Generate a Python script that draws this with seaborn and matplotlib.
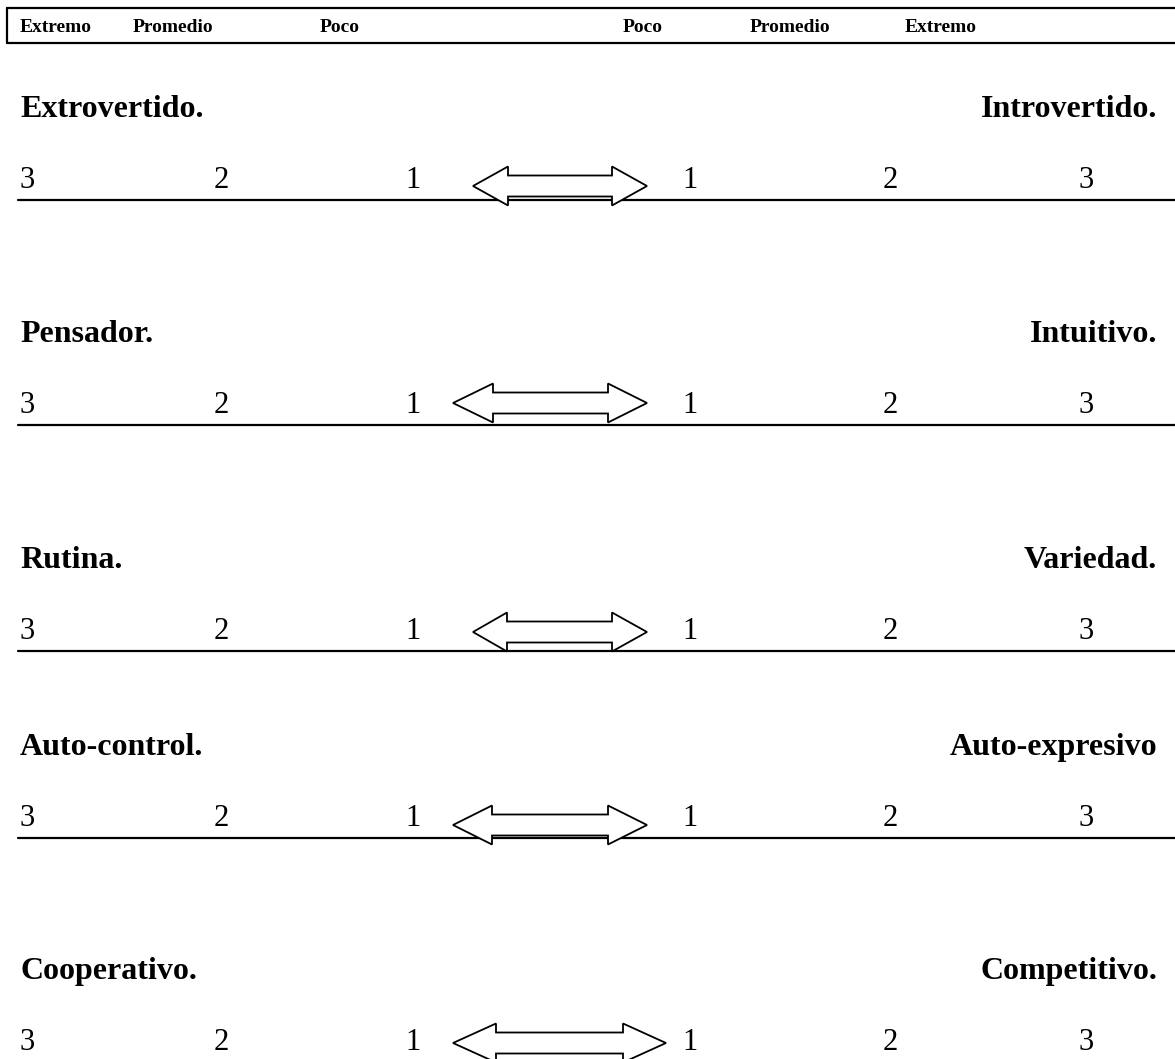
import matplotlib
matplotlib.use("Agg")
import matplotlib.pyplot as plt
import seaborn as sns
from matplotlib.patches import Polygon

# data: header labels, scale values and trait pairs
header_labels = ["Extremo", "Promedio", "Poco", "Poco", "Promedio", "Extremo"]
scale_values = [3, 2, 1, 1, 2, 3]
left_traits = ["Extrovertido.", "Pensador.", "Rutina.", "Auto-control.", "Cooperativo."]
right_traits = ["Introvertido.", "Intuitivo.", "Variedad.", "Auto-expresivo", "Competitivo."]

# layout (pixel coordinates of the 1175x1059 page)
W, H = 1175, 1059
header_x = [20, 133, 320, 623, 750, 905]
number_x = [27, 221, 413, 690, 890, 1086]
rule_y = [200, 425, 651, 838, 1062]
# arrow geometry per row: centre y, left tip, left base, right base, right tip
arrows = [
    (186, 473, 508, 612, 647),
    (403, 453, 493, 608, 647),
    (632, 473, 507, 612, 647),
    (825, 453, 492, 608, 647),
    (1043, 453, 496, 623, 666),
]

sns.set_theme(style="white")
plt.rcParams['font.family'] = ['Liberation Serif', 'DejaVu Serif']
plt.rcParams['text.color'] = 'black'

fig = plt.figure(figsize=(W / 100, H / 100), dpi=100)
ax = fig.add_axes([0, 0, 1, 1])
ax.set_xlim(0, W)
ax.set_ylim(H, 0)
ax.axis("off")

# header box
ax.plot([7, W], [8, 8], color="black", lw=1.6)
ax.plot([7, W], [43, 43], color="black", lw=1.6)
ax.plot([7, 7], [8, 43], color="black", lw=1.6)
for x, lab in zip(header_x, header_labels):
    ax.text(x, 32, lab, fontsize=14, fontweight="bold", color="black",
            ha="left", va="baseline")

for i in range(len(left_traits)):
    ly = rule_y[i]
    ax.text(20, ly - 83, left_traits[i], fontsize=23, fontweight="bold",
            color="black", ha="left", va="baseline")
    ax.text(1157, ly - 83, right_traits[i], fontsize=23, fontweight="bold",
            color="black", ha="right", va="baseline")
    for x, v in zip(number_x, scale_values):
        ax.text(x, ly - 12, str(v), fontsize=22, color="black",
                ha="center", va="baseline")
    ax.plot([18, W], [ly, ly], color="black", lw=1.6, zorder=1)

    c, tl, bl, br, tr = arrows[i]
    hh, sh = 19.5, 10.5
    pts = [(tl, c), (bl, c - hh), (bl, c - sh), (br, c - sh), (br, c - hh),
           (tr, c), (br, c + hh), (br, c + sh), (bl, c + sh), (bl, c + hh)]
    ax.add_patch(Polygon(pts, closed=True, facecolor="white", edgecolor="black",
                         lw=1.3, zorder=3))

fig.savefig("out.png", dpi=100, facecolor="white")
